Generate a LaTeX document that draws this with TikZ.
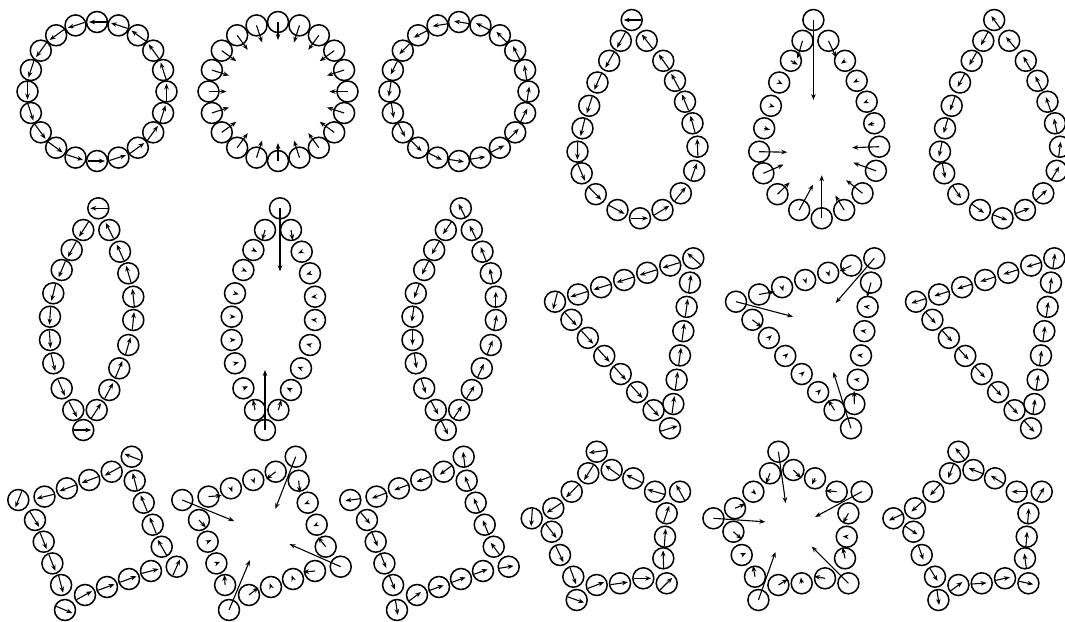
\documentclass[tikz,border=0pt]{standalone}
\usetikzlibrary{calc,arrows.meta}
\newcounter{pidx}
\tikzset{
  bead/.style={circle,draw,line width=1.5pt,minimum size=21pt,inner sep=0pt},
  vec/.style={line width=1.1pt,-{Stealth[length=6pt,width=4.6pt]}}
}
\def\tearlist{631.7/20, 620.8/40.8, 609.2/60.8, 597.5/82.5, 589.2/105.8, 582.5/128.3, 577.5/151.7, 581.7/173.3, 595.8/194.2, 617.5/210, 640/218.3, 662.5/210, 680.8/193.3, 694.2/170.8, 697.5/146.7, 692.5/123.3, 685/101.7, 675/80.8, 663.3/60.8, 646.7/40.8}
\def\lenslist{98.3/208.3, 83.3/230, 71.7/250, 61.7/270, 53.3/293.3, 50/316.7, 50/340, 53.3/363.3, 61.7/388.3, 73.3/410, 83.3/430, 96.7/410, 109.3/390, 119.3/368.3, 128.3/345, 133.3/320, 133.3/296.7, 128.3/273.3, 120/251.7, 109.3/230}
\def\trilist{555/301.7/7, 670/428.3/7, 693.3/258.3/6}
\def\quadlist{18.3/500, 35/520, 43.7/541.7, 52.4/563.4, 61.1/585, 65/610, 85/595, 107/587, 129/579, 151/571, 176.7/566.7, 161.7/546.7, 152.7/524.7, 143.7/502.7, 134.7/480.7, 131.7/456.7, 111.7/471.7, 89.3/480, 66.9/488.3, 44.5/496.6}
\def\pentlist{596.7/451.7, 588.3/473.3, 571.7/491.7, 553.3/508.3, 531.7/518.3, 551.7/531.7, 560/555, 573.3/576.7, 576.7/600, 596.7/585, 620/583.3, 643.3/578.3, 666.7/583.3, 663.3/558.3, 665/536.7, 666.7/513.3, 680/491.7, 655/491.7, 633.3/478.3, 611.7/470}
\newcommand\ringpts[4]{%
  \foreach \k in {1,...,#4}{\coordinate (P\k) at ({#1+#3*cos(90+360/#4*(\k-1))},{#2-#3*sin(90+360/#4*(\k-1))});}%
  \xdef\NP{#4}}
\newcommand\ptlist[2]{%
  \foreach [count=\k] \px/\py in #2 {\coordinate (P\k) at (\px+#1,\py); \xdef\NP{\k}}}
\newcommand\mkpoly[2]{%
  \setcounter{pidx}{0}%
  \foreach [count=\k] \cx/\cy/\cs in #2 {\coordinate (C\k) at (\cx+#1,\cy); \xdef\NC{\k}}%
  \foreach [count=\k] \cx/\cy/\cs in #2 {%
    \pgfmathtruncatemacro\kn{mod(\k,\NC)+1}%
    \foreach \j in {1,...,\cs} {%
      \stepcounter{pidx}%
      \pgfmathtruncatemacro\idx{\thepidx}%
      \pgfmathsetmacro\fr{(\j-1)/\cs}%
      \coordinate (P\idx) at ($(C\k)!\fr!(C\kn)$);%
    }%
  }%
  \xdef\NP{\thepidx}}
\newcommand\nbrs{\pgfmathtruncatemacro\pv{mod(\i+\NP-2,\NP)+1}\pgfmathtruncatemacro\nx{mod(\i,\NP)+1}}
\newcommand\drawtan[1]{%
  \foreach \i in {1,...,\NP}{\nbrs
    \node[bead] (#1-\i) at (P\i) {};
    \coordinate (Tf) at ($(P\i)+(P\nx)-(P\pv)$);
    \coordinate (Tb) at ($(P\i)-(P\nx)+(P\pv)$);
    \draw[vec] ($(P\i)!9.5pt!(Tb)$) -- ($(P\i)!8pt!(Tf)$);}}
\newcommand\drawback[1]{%
  \foreach \i in {1,...,\NP}{\nbrs
    \node[bead] (#1-\i) at (P\i) {};
    \coordinate (Tf) at ($2*(P\i)-(P\pv)$);
    \draw[vec] ($(P\i)!10pt!(P\pv)$) -- ($(P\i)!5pt!(Tf)$);}}
\newcommand\drawnorm[2]{%
  \foreach [count=\i] \va/\vb in {#2}{\nbrs
    \node[bead] (#1-\i) at (P\i) {};
    \coordinate (Tf) at ($(P\i)+(P\nx)-(P\pv)$);
    \coordinate (Na) at ($(P\i)!\va pt!90:(Tf)$);
    \coordinate (Nb) at ($(P\i)!\vb pt!(Tf)$);
    \draw[vec] (P\i) -- ($(Na)+(Nb)-(P\i)$);}}
\begin{document}
\begin{tikzpicture}[x=1pt,y=-1pt]
\useasboundingbox (0,0) rectangle (1065,621);
\clip (0,0) rectangle (1065,621);
\fill[white] (0,0) rectangle (1065,621);
% row 1: rings
\ringpts{97}{91.5}{69.5}{20}\drawtan{ra}
\ringpts{278}{91.5}{69.5}{20}\drawnorm{rb}{18/0,18/0,18/0,18/0,18/0,18/0,18/0,18/0,18/0,18/0,18/0,18/0,18/0,18/0,18/0,18/0,18/0,18/0,18/0,18/0}
\ringpts{459}{91.5}{69.5}{20}\drawback{rc}
% row 1: teardrops
\ptlist{0}{\tearlist}\drawtan{ta}
\ptlist{181.7}{\tearlist}\drawnorm{tb}{80/0,4/18,8/0,4/0,4/0,6/0,28/0,22/0,17/0,29/0,43/0,17/0,21/0,24/0,27/0,7/0,4/0,4/0,5/0,4/-18}
\ptlist{362.5}{\tearlist}\drawback{tc}
% row 2: lenses
\ptlist{0}{\lenslist}\drawtan{la}
\ptlist{181.7}{\lenslist}\drawnorm{lb}{63/0,3/10,4/0,4/0,4/0,4/0,4/0,4/0,5/0,3/-10,60/0,3/10,5/0,4/0,4/0,4/0,4/0,4/0,4/0,3/-10}
\ptlist{362.5}{\lenslist}\drawback{lc}
% row 2: triangles
\mkpoly{0}{\trilist}\drawtan{ga}
\mkpoly{181}{\trilist}\drawnorm{gb}{59/0,2/12,4/0,4/0,4/0,4/0,2/-12,59/0,2/13,4/0,4/0,4/0,4/0,2/-15,59/0,2/13,4/0,4/0,4/0,2/-16}
\mkpoly{361}{\trilist}\drawback{gc}
% row 3: quadrilaterals
\ptlist{0}{\quadlist}\drawtan{qa}
\ptlist{164}{\quadlist}\drawnorm{qb}{56/0,2/10,4/0,4/0,2/-10,54/0,2/12,4/0,4/0,2/-12,56/0,2/12,4/0,4/0,2/-12,56/0,2/12,4/0,4/0,2/-13}
\ptlist{332}{\quadlist}\drawback{qc}
% row 3: pentagons
\ptlist{0}{\pentlist}\drawtan{pa}
\ptlist{181.7}{\pentlist}\drawnorm{pb}{52/0,2/11,4/0,2/-11,52/0,2/11,5/0,2/-11,51/0,2/11,6/0,2/-11,52/0,2/11,4/0,2/-11,53/0,2/11,7/0,2/-11}
\ptlist{361.7}{\pentlist}\drawback{pc}
\end{tikzpicture}
\end{document}
